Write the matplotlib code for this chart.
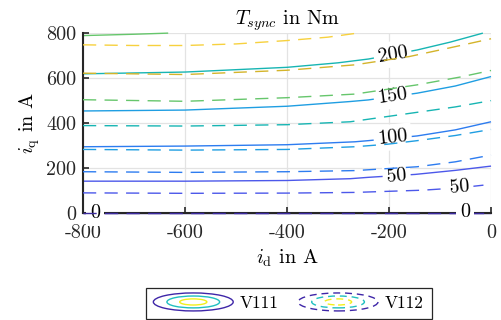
import numpy as np
import matplotlib
matplotlib.use("Agg")
import matplotlib.pyplot as plt
from matplotlib.lines import Line2D
from matplotlib.patches import Ellipse
from matplotlib.legend_handler import HandlerBase

plt.rcParams["font.family"] = "serif"
plt.rcParams["font.serif"] = ["cmr10"]
plt.rcParams["mathtext.fontset"] = "cm"
plt.rcParams["axes.unicode_minus"] = False
plt.rcParams["lines.scale_dashes"] = False

# contour levels (torque in Nm) and their colours
v111_levels = [0, 50, 100, 150, 200, 250]
v112_levels = [0, 50, 100, 150, 200, 250, 300, 350]
level_colors = {0: "#3b2a9e", 50: "#4c58ea", 100: "#2d7cf0", 150: "#1f9ee2",
                200: "#17b5b3", 250: "#66c66c", 300: "#d4b42a", 350: "#f7d13e"}

# V111 (solid) contour lines, i_d / i_q in A
v111_id = [
    [-800, 0],
    [-800, -600, -400, -276, -241, -149, -70, 0],
    [-800, -600, -400, -267, -241, -145, -70, 0],
    [-800, -600, -400, -276, -241, -145, -70, 0],
    [-800, -600, -400, -300, -240, -145, -80, -16],
    [-800, -700, -633],
]
v111_iq = [
    [0, 0],
    [142, 142, 145, 153, 159, 172, 190, 209],
    [295, 298, 304, 317, 322, 343, 370, 406],
    [454, 458, 475, 496, 503, 533, 565, 607],
    [619, 627, 648, 668, 685, 725, 760, 800],
    [789, 795, 800],
]

# V112 (dashed) contour lines
v112_id = [
    [-800, 0],
    [-800, -600, -400, -267, -133, -60, 0],
    [-800, -600, -400, -267, -145, -70, 0],
    [-800, -600, -400, -267, -204, -145, -70, 0],
    [-800, -600, -400, -276, -145, -70, 0],
    [-800, -600, -400, -267, -145, -60, 0],
    [-800, -600, -400, -267, -160, -80, 0],
    [-800, -700, -600, -500, -400, -320, -262],
]
v112_iq = [
    [0, 0],
    [90, 88, 89, 92, 102, 113, 128],
    [184, 181, 184, 189, 206, 228, 258],
    [283, 280, 283, 295, 306, 322, 345, 372],
    [389, 387, 393, 406, 448, 472, 500],
    [504, 497, 513, 529, 570, 605, 634],
    [622, 616, 635, 659, 696, 735, 775],
    [748, 745, 745, 752, 767, 782, 800],
]

# inline contour labels
v111_lab_text = ["0", "50", "100", "150", "200"]
v111_lab_id = [-776, -185, -193, -193, -193]
v111_lab_iq = [0, 165, 337, 522, 706]
v111_lab_rot = [0, 5, 6, 8, 9]
v112_lab_text = ["0", "50"]
v112_lab_id = [-51, -62]
v112_lab_iq = [6, 117]
v112_lab_rot = [0, 5]

xticks = [-800, -600, -400, -200, 0]
xtick_labels = ["-800", "-600", "-400", "-200", "0"]
yticks = [0, 200, 400, 600, 800]
ytick_labels = ["0", "200", "400", "600", "800"]

FS = 14.5

fig = plt.figure(figsize=(5.01, 3.2), dpi=100)
ax = fig.add_axes([0.1657, 0.334, 0.8144, 0.5625])

for lev, xs, ys in zip(v111_levels, v111_id, v111_iq):
    ax.plot(xs, ys, color=level_colors[lev], lw=1.0, zorder=2, clip_on=False,
            solid_capstyle="butt")
lab_box = dict(boxstyle="square,pad=0.2", fc="white", ec="none")
for t, x, y, r in zip(v111_lab_text, v111_lab_id, v111_lab_iq, v111_lab_rot):
    ax.text(x, y, t, rotation=r, ha="center", va="center", fontsize=FS,
            bbox=lab_box, zorder=3)

for lev, xs, ys in zip(v112_levels, v112_id, v112_iq):
    ax.plot(xs, ys, color=level_colors[lev], lw=1.0, ls=(0, (9.5, 6)), zorder=4,
            clip_on=False)
for t, x, y, r in zip(v112_lab_text, v112_lab_id, v112_lab_iq, v112_lab_rot):
    ax.text(x, y, t, rotation=r, ha="center", va="center", fontsize=FS,
            bbox=lab_box, zorder=5)

ax.set_xlim(-800, 0)
ax.set_ylim(0, 800)
ax.set_xticks(xticks)
ax.set_xticklabels(xtick_labels)
ax.set_yticks(yticks)
ax.set_yticklabels(ytick_labels)
ax.tick_params(direction="in", length=4, width=1.2, labelsize=FS,
               colors="#262626")
ax.tick_params(axis="x", pad=8)
ax.tick_params(axis="y", pad=5)
ax.grid(True, color="#e3e3e3", lw=0.9)
ax.set_axisbelow(True)
for s in ["top", "right"]:
    ax.spines[s].set_visible(False)
ax.spines["left"].set_linewidth(1.5)
ax.spines["left"].set_color("#262626")
ax.spines["bottom"].set_linewidth(1.5)
ax.spines["bottom"].set_color("#262626")

ax.set_title(r"$T_{sync}$ in Nm", fontsize=FS, pad=6)
ax.set_xlabel(r"$i_\mathrm{d}$ in A", fontsize=FS, labelpad=4)
ax.set_ylabel(r"$i_\mathrm{q}$ in A", fontsize=FS, labelpad=3)

# legend with concentric-ellipse handles
ring_scale = [1.0, 0.66, 0.34]
ring_colors = ["#3e26a8", "#1fbfc0", "#f2ef1c"]


class HandlerRings(HandlerBase):
    def __init__(self, linestyle):
        super().__init__()
        self.linestyle = linestyle

    def create_artists(self, legend, orig_handle, xdescent, ydescent, width,
                       height, fontsize, trans):
        cx = 0.5 * width - xdescent
        cy = 0.5 * height - ydescent
        arts = []
        for frac, col in zip(ring_scale, ring_colors):
            arts.append(Ellipse((cx, cy), width * frac, height * 1.48 * frac,
                                fill=False, edgecolor=col, lw=1.0,
                                linestyle=self.linestyle, transform=trans))
        return arts


h1 = Line2D([], [])
h2 = Line2D([], [])
leg = fig.legend([h1, h2], ["V111", "V112"], ncol=2, loc="center",
                 bbox_to_anchor=(0.576, 0.052), fontsize=12.5,
                 handler_map={h1: HandlerRings("-"), h2: HandlerRings((0, (5, 3.5)))},
                 handlelength=4.6, handletextpad=0.4, columnspacing=1.1,
                 borderpad=0.45, fancybox=False, framealpha=1, edgecolor="#262626")
leg.get_frame().set_linewidth(0.9)

fig.savefig("out.png", dpi=100, facecolor="white")
